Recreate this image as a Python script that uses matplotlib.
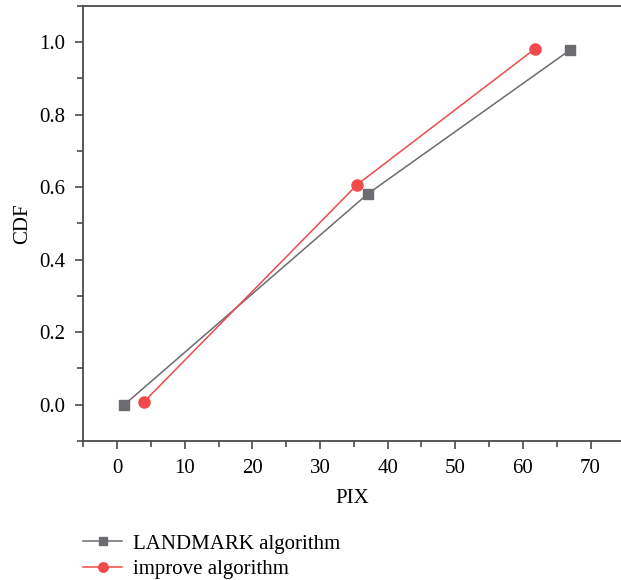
import matplotlib
matplotlib.use('Agg')
import matplotlib.pyplot as plt
from matplotlib.ticker import MultipleLocator

plt.rcParams['font.family'] = ['Liberation Serif', 'DejaVu Serif']

# data
landmark_x = [1.1, 37.1, 67.0]
landmark_y = [0.0, 0.582, 0.979]
improve_x = [4.0, 35.5, 61.8]
improve_y = [0.008, 0.607, 0.982]

x_ticks = [0, 10, 20, 30, 40, 50, 60, 70]
y_ticks = [0.0, 0.2, 0.4, 0.6, 0.8, 1.0]

axis_col = '#4a4a4a'
gray = '#6b6b70'
red = '#f04a4a'

fig = plt.figure(figsize=(6.21, 5.80), dpi=100)
ax = fig.add_axes([0.134, 0.24, 0.866, 0.7497])

l1, = ax.plot(landmark_x, landmark_y, color=gray, lw=1.1, marker='s', ms=7,
              mfc=gray, mec=gray, label='LANDMARK algorithm')
l2, = ax.plot(improve_x, improve_y, color=red, lw=1.1, marker='o', ms=8,
              mfc=red, mec=red, label='improve algorithm')

ax.set_xlim(-5, 74.5)
ax.set_ylim(-0.1, 1.1)
ax.set_xticks(x_ticks)
ax.set_yticks(y_ticks)
ax.set_yticklabels(['%.1f' % v for v in y_ticks])
ax.xaxis.set_minor_locator(MultipleLocator(5))
ax.yaxis.set_minor_locator(MultipleLocator(0.1))

ax.spines['right'].set_visible(False)
for s in ['left', 'top', 'bottom']:
    ax.spines[s].set_color(axis_col)
    ax.spines[s].set_linewidth(1.3)
ax.tick_params(which='major', direction='out', length=6, width=1.2, color=axis_col,
               labelsize=15, pad=7)
ax.tick_params(which='minor', direction='out', length=4, width=1.2, color=axis_col)
ax.tick_params(axis='x', which='both', top=False)

ax.set_xlabel('PIX', fontsize=15, labelpad=8)
ax.set_ylabel('CDF', fontsize=15, labelpad=5)

fig.legend(handles=[l1, l2], loc='lower left', bbox_to_anchor=(0.11, -0.024),
           frameon=False, fontsize=15, handlelength=1.9, handletextpad=0.5,
           labelspacing=0.3, borderaxespad=0.3, markerscale=0.85)

fig.savefig('out.png', dpi=100)
